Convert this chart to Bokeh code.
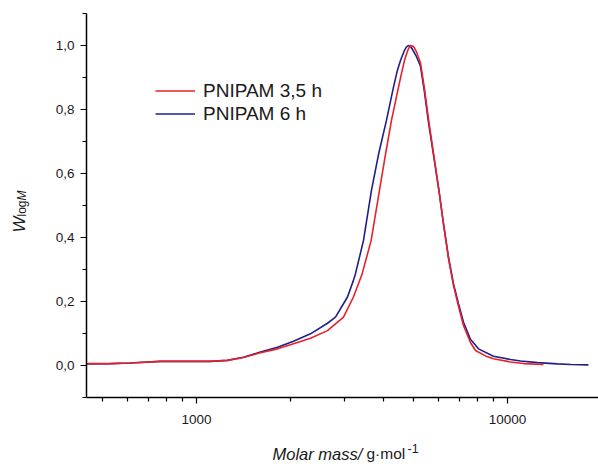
from bokeh.plotting import figure
from bokeh.models import (FixedTicker, CustomJSTickFormatter, Legend, LegendItem,
                          Label, Range1d)
from bokeh.layouts import column, row
from bokeh.embed import file_html
from bokeh.resources import INLINE

# ---- data ----
blue_M = [443, 529, 613, 766, 922, 1109, 1258, 1416, 1606, 1822, 2051, 2326, 2638,
          2799, 2970, 3059, 3197, 3246, 3444, 3653, 3850, 4082, 4300, 4420, 4529,
          4665, 4730, 4795, 4860, 4913, 5099, 5253, 5400, 5572, 5790, 6020, 6226, 6461,
          6706, 6959, 7221, 7603, 8069, 9016, 10224, 11011, 12500, 14482, 16000, 18220]
blue_W = [0.005, 0.006, 0.008, 0.013, 0.013, 0.013, 0.016, 0.026, 0.042, 0.057, 0.076,
          0.099, 0.132, 0.151, 0.193, 0.214, 0.266, 0.287, 0.391, 0.547, 0.66, 0.766,
          0.87, 0.92, 0.953, 0.985, 0.995, 1.0, 0.998, 0.993, 0.965, 0.935, 0.86, 0.76,
          0.655, 0.547, 0.443, 0.339, 0.255, 0.193, 0.135, 0.082, 0.052, 0.029, 0.019,
          0.014, 0.009, 0.005, 0.003, 0.002]

red_M = [443, 529, 613, 766, 922, 1109, 1258, 1416, 1606, 1822, 2051, 2326, 2638,
         2970, 3197, 3411, 3645, 3876, 4053, 4237, 4463, 4580, 4665, 4780, 4840, 4898,
         4960, 5010, 5099, 5253, 5400, 5572, 5790, 6020, 6226, 6461, 6706, 6959, 7221,
         7603, 7890, 8500, 9016, 10224, 11257, 13055]
red_W = [0.006, 0.006, 0.008, 0.013, 0.013, 0.013, 0.016, 0.025, 0.040, 0.052, 0.068,
         0.085, 0.109, 0.151, 0.214, 0.287, 0.391, 0.547, 0.66, 0.766, 0.87, 0.92,
         0.953, 0.985, 0.996, 1.0, 0.998, 0.994, 0.98, 0.945, 0.87, 0.77, 0.66, 0.547,
         0.443, 0.335, 0.25, 0.185, 0.125, 0.072, 0.047, 0.030, 0.021, 0.011, 0.006,
         0.003]

series_names = ["PNIPAM 3,5 h", "PNIPAM 6 h"]
y_major = [0.0, 0.2, 0.4, 0.6, 0.8, 1.0]
y_minor = [-0.1, 0.1, 0.3, 0.5, 0.7, 0.9, 1.1]
x_major = [1000, 10000]
x_minor = [500, 600, 700, 800, 900, 2000, 3000, 4000, 5000, 6000, 7000, 8000, 9000, 20000]

RED = "#e8202a"
BLUE = "#1f1f8c"
FONT = "Liberation Sans"
TXT = "#1a1a1a"

YLAB_W = 36
TOP, BOTTOM = 13, 43
p = figure(width=598 - YLAB_W, height=440, x_axis_type="log",
           x_range=Range1d(443, 19620), y_range=Range1d(-0.1, 1.1),
           output_backend="svg", toolbar_location=None, title=None,
           min_border_left=86 - YLAB_W, min_border_right=0, min_border_top=TOP,
           min_border_bottom=BOTTOM)
p.outline_line_color = None
p.grid.visible = False

b = p.line(blue_M, blue_W, line_color=BLUE, line_width=1.6)
r = p.line(red_M, red_W, line_color=RED, line_width=1.6)

for ax in (p.xaxis[0], p.yaxis[0]):
    ax.axis_line_color = "black"
    ax.axis_line_width = 1.5
    ax.major_tick_line_color = "black"
    ax.minor_tick_line_color = "black"
    ax.major_tick_line_width = 1.2
    ax.minor_tick_line_width = 1.2
    ax.major_tick_in = 0
    ax.major_tick_out = 6
    ax.minor_tick_in = 0
    ax.minor_tick_out = 4
    ax.major_label_text_font = FONT
    ax.major_label_text_font_size = "13.5px"
    ax.major_label_text_color = TXT
    ax.major_label_standoff = 6
p.xaxis[0].major_label_standoff = 11

p.yaxis[0].ticker = FixedTicker(ticks=y_major, minor_ticks=y_minor)
p.yaxis[0].formatter = CustomJSTickFormatter(code="return tick.toFixed(1).replace('.', ',');")
p.xaxis[0].ticker = FixedTicker(ticks=x_major, minor_ticks=x_minor)
p.xaxis[0].formatter = CustomJSTickFormatter(code="return tick.toFixed(0);")

legend = Legend(items=[LegendItem(label=series_names[0], renderers=[r]),
                       LegendItem(label=series_names[1], renderers=[b])],
                location=(69, 272), padding=0, margin=0, spacing=0,
                glyph_width=40, glyph_height=23, label_height=23,
                label_standoff=8, border_line_alpha=0, background_fill_alpha=0,
                label_text_font=FONT, label_text_font_size="19px",
                label_text_color=TXT)
p.add_layout(legend, "center")


def blank(w, h, top=0, bottom=0):
    f = figure(width=w, height=h, x_range=Range1d(0, 1), y_range=Range1d(0, 1),
               x_axis_location=None, y_axis_location=None,
               output_backend="svg", toolbar_location=None, title=None,
               min_border=0, min_border_left=0, min_border_right=0,
               min_border_top=top, min_border_bottom=bottom)
    f.grid.visible = False
    f.outline_line_color = None
    return f


def lab(f, text, sx, sy, size, style="normal", angle=0.0):
    f.add_layout(Label(x=sx, y=sy, x_units="screen", y_units="screen", text=text,
                       angle=angle, text_align="left", text_baseline="alphabetic",
                       text_font=FONT, text_font_style=style, text_font_size=size,
                       text_color=TXT))


# y-axis label W_logM (rotated, reading upwards); offsets from frame bottom-left
ylab = blank(YLAB_W, 440, TOP, BOTTOM)
lab(ylab, "W", 19, 165, "17px", "italic", 1.5708)
lab(ylab, "log", 21.5, 181, "12px", "normal", 1.5708)
lab(ylab, "M", 21.5, 197, "12px", "italic", 1.5708)

# x-axis label  Molar mass/ g·mol^-1
xlab = blank(598, 24)
lab(xlab, "Molar mass/", 272, 11, "16.5px", "italic")
lab(xlab, "g·mol", 366, 11, "15.5px")
lab(xlab, "-1", 407, 16, "12.5px")

layout = column(row(ylab, p, spacing=0), xlab, spacing=0)

open("out.html", "w").write(file_html(layout, INLINE))
